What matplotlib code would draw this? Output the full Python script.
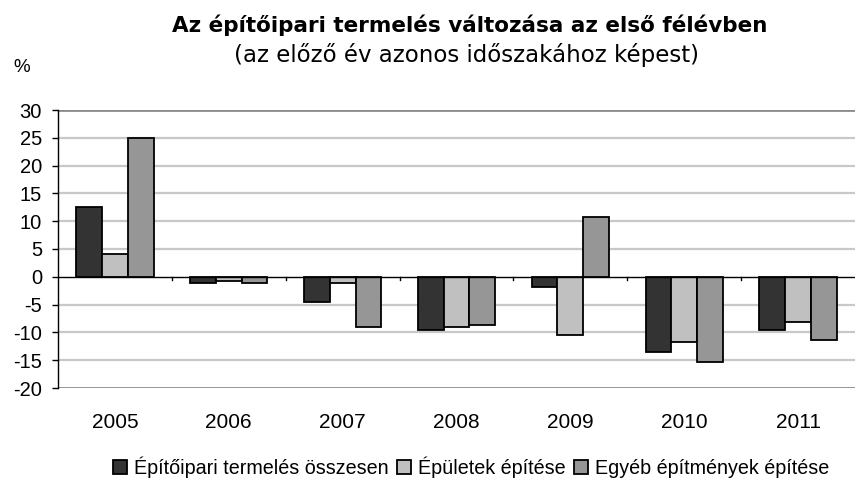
import matplotlib
matplotlib.use("Agg")
import matplotlib.pyplot as plt
import numpy as np

plt.rcParams['font.family'] = ['Liberation Sans', 'DejaVu Sans']

years = ['2005', '2006', '2007', '2008', '2009', '2010', '2011']
total = [12.5, -1.2, -4.6, -9.6, -1.8, -13.6, -9.6]
buildings = [4.1, -0.7, -1.1, -9.0, -10.4, -11.8, -8.2]
other = [25.0, -1.2, -9.0, -8.6, 10.7, -15.4, -11.4]
series_names = ['Építőipari termelés összesen', 'Épületek építése', 'Egyéb építmények építése']
colors = ['#333333', '#c0c0c0', '#969696']
yticks = [-20, -15, -10, -5, 0, 5, 10, 15, 20, 25, 30]

fig = plt.figure(figsize=(8.56, 4.94), dpi=100)
ax = fig.add_axes([58/856, 1-388/494, (855-58)/856, (388-110)/494])

x = np.arange(len(years))
w = 0.226
for i, (vals, c, name) in enumerate(zip([total, buildings, other], colors, series_names)):
    ax.bar(x + (i-1)*w, vals, width=w, color=c, edgecolor='black', linewidth=1.3,
           label=name, zorder=3)

ax.set_xlim(-0.5, len(years)-0.5)
ax.set_ylim(-20, 30)
ax.set_yticks(yticks)
ax.set_yticklabels([str(v) for v in yticks], fontsize=14.5)
for v in yticks:
    if v in (-20, 30):
        ax.axhline(v, color='#8c8c8c', linewidth=2.0, zorder=1)
    elif v != 0:
        ax.axhline(v, color='#c8c8c8', linewidth=1.6, zorder=1)
ax.axhline(0, color='black', linewidth=1.0, zorder=4)
# category boundary ticks on zero line
for b in np.arange(0.5, len(years)-1, 1.0):
    ax.plot([b, b], [0, -0.55], color='black', linewidth=1.0, zorder=4, clip_on=False)

ax.set_xticks(x)
ax.set_xticklabels(years, fontsize=15)
ax.tick_params(axis='x', length=0, pad=18)
ax.tick_params(axis='y', length=4.5, width=1.0, color='black', pad=7)
for s in ['top', 'right', 'bottom']:
    ax.spines[s].set_visible(False)
ax.spines['left'].set_color('black')
ax.spines['left'].set_linewidth(1.0)

fig.text(470/856, 1-32/494, 'Az építőipari termelés változása az első félévben',
         ha='center', va='baseline', fontsize=15.5, fontweight='bold', family='DejaVu Sans')
fig.text(466/856, 1-62/494, '(az előző év azonos időszakához képest)',
         ha='center', va='baseline', fontsize=16.5, family='DejaVu Sans')
fig.text(22/856, 1-72/494, '%', ha='center', va='baseline', fontsize=13.5)

leg = fig.legend(loc='center', bbox_to_anchor=(471/856, 1-467/494), ncol=3, frameon=False,
                 fontsize=14.2, handlelength=0.7, handleheight=0.7, handletextpad=0.35,
                 columnspacing=0.45)

fig.savefig('out.png', dpi=100)
